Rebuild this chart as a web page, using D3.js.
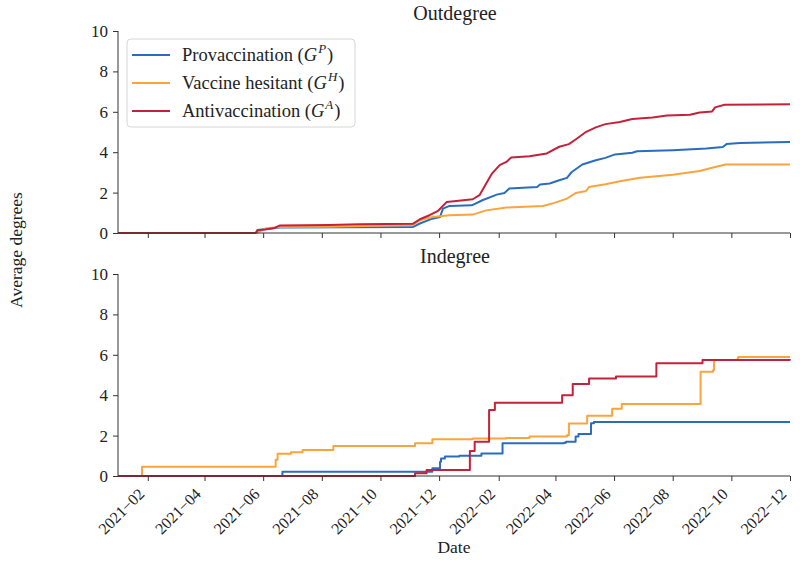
<!DOCTYPE html>
<html>
<head>
<meta charset="utf-8">
<script src="https://cdn.jsdelivr.net/npm/d3@7"></script>
<style>
  html, body { margin: 0; padding: 0; background: #fff; }
  svg { display: block; font-family: "Liberation Serif", "DejaVu Serif", serif; }
</style>
</head>
<body>
<svg id="chart" width="800" height="567"></svg>
<script>
// ---------- data ----------
const seriesNames = ["Provaccination", "Vaccine hesitant", "Antivaccination"];
const seriesSup = ["P", "H", "A"];
const seriesColors = ["#2a6dbf", "#f9a43d", "#c4213a"];
const panelTitles = ["Outdegree", "Indegree"];
const yTicks = [0, 2, 4, 6, 8, 10];
const xTickDates = ["2021-02-01","2021-04-01","2021-06-01","2021-08-01","2021-10-01","2021-12-01",
                    "2022-02-01","2022-04-01","2022-06-01","2022-08-01","2022-10-01","2022-12-01"];
const xDomain = ["2021-01-01", "2022-12-01"];

// Outdegree
const outPro = [["2021-01-01",0],["2021-05-25",0],["2021-05-26",0.15],["2021-06-18",0.27],["2021-11-04",0.3],["2021-11-11",0.47],["2021-11-24",0.71],["2021-12-02",0.79],["2021-12-05",1.21],["2021-12-12",1.34],["2022-01-04",1.37],["2022-01-15",1.62],["2022-01-30",1.9],["2022-02-07",1.98],["2022-02-12",2.2],["2022-03-13",2.28],["2022-03-16",2.4],["2022-03-26",2.45],["2022-04-05",2.61],["2022-04-13",2.73],["2022-04-18",3.02],["2022-04-29",3.39],["2022-05-13",3.6],["2022-05-23",3.72],["2022-06-02",3.89],["2022-06-20",3.97],["2022-06-25",4.05],["2022-08-01",4.1],["2022-09-05",4.18],["2022-09-22",4.26],["2022-09-26",4.4],["2022-10-10",4.46],["2022-12-01",4.5]];
const outHes = [["2021-01-01",0],["2021-05-25",0],["2021-06-03",0.22],["2021-06-18",0.3],["2021-08-06",0.31],["2021-11-04",0.4],["2021-11-11",0.63],["2021-11-24",0.79],["2021-12-12",0.88],["2022-01-05",0.91],["2022-01-19",1.12],["2022-02-09",1.26],["2022-03-19",1.34],["2022-03-31",1.49],["2022-04-13",1.7],["2022-04-22",1.98],["2022-05-03",2.08],["2022-05-06",2.28],["2022-05-23",2.41],["2022-06-07",2.56],["2022-06-28",2.73],["2022-08-01",2.88],["2022-08-29",3.07],["2022-09-12",3.24],["2022-09-25",3.39],["2022-12-01",3.39]];
const outAnti = [["2021-01-01",0],["2021-05-24",0],["2021-05-26",0.13],["2021-06-03",0.17],["2021-06-13",0.25],["2021-06-18",0.37],["2021-08-09",0.39],["2021-09-09",0.43],["2021-11-04",0.46],["2021-11-11",0.68],["2021-11-21",0.88],["2021-11-30",1.1],["2021-12-09",1.54],["2022-01-05",1.67],["2022-01-12",1.87],["2022-01-19",2.45],["2022-01-25",2.94],["2022-02-02",3.36],["2022-02-09",3.52],["2022-02-14",3.74],["2022-03-05",3.8],["2022-03-23",3.94],["2022-04-05",4.27],["2022-04-15",4.4],["2022-04-22",4.63],["2022-05-03",5.01],["2022-05-13",5.23],["2022-05-23",5.39],["2022-06-07",5.5],["2022-06-20",5.64],["2022-07-11",5.72],["2022-07-26",5.82],["2022-08-19",5.85],["2022-08-29",5.97],["2022-09-11",6.02],["2022-09-14",6.22],["2022-09-24",6.35],["2022-12-01",6.37]];

// Indegree (step functions)
const inPro = [["2021-01-01",0],["2021-06-21",0.21],["2021-11-24",0.38],["2021-12-02",0.71],["2021-12-03",0.87],["2021-12-07",0.96],["2021-12-22",1.0],["2022-01-14",1.12],["2022-02-05",1.62],["2022-04-10",1.65],["2022-04-12",1.7],["2022-04-22",1.95],["2022-04-25",2.08],["2022-05-08",2.61],["2022-05-11",2.67],["2022-12-01",2.67]];
const inHes = [["2021-01-01",0],["2021-01-26",0.46],["2021-06-14",0.8],["2021-06-16",1.1],["2021-06-30",1.17],["2021-07-12",1.29],["2021-08-13",1.49],["2021-11-06",1.62],["2021-11-24",1.82],["2022-01-05",1.86],["2022-02-09",1.88],["2022-03-05",1.96],["2022-04-13",2.02],["2022-04-15",2.6],["2022-05-04",2.98],["2022-05-30",3.33],["2022-06-09",3.56],["2022-08-30",5.16],["2022-09-12",5.25],["2022-09-13",5.74],["2022-10-07",5.78],["2022-10-08",5.89],["2022-12-01",5.89]];
const inAnti = [["2021-01-01",0],["2021-11-06",0.13],["2021-11-18",0.3],["2022-01-02",1.24],["2022-01-07",1.7],["2022-01-22",3.27],["2022-01-28",3.63],["2022-04-08",4.0],["2022-04-19",4.55],["2022-05-06",4.83],["2022-06-03",4.92],["2022-07-15",5.58],["2022-09-01",5.74],["2022-12-01",5.72]];

// ---------- drawing ----------
const parse = d3.utcParse("%Y-%m-%d");
const svg = d3.select("#chart");
const left = 118, right = 790;
const panels = [
  { top: 31, bottom: 233, series: [outPro, outHes, outAnti], curve: d3.curveLinear, labels: false },
  { top: 274, bottom: 476, series: [inPro, inHes, inAnti], curve: d3.curveStepAfter, labels: true }
];

const x = d3.scaleUtc().domain(xDomain.map(parse)).range([left, right]);
const fmt = d3.utcFormat("%Y\u2212%m");

panels.forEach((p, pi) => {
  const y = d3.scaleLinear().domain([0, 10]).range([p.bottom, p.top]);
  const g = svg.append("g");

  // title
  g.append("text").attr("x", (left + right) / 2 + 1).attr("y", p.top - 11)
    .attr("text-anchor", "middle").attr("font-size", 20).attr("fill", "#222")
    .text(panelTitles[pi]);

  // lines
  const line = d3.line().x(d => x(parse(d[0]))).y(d => y(d[1])).curve(p.curve);
  p.series.forEach((s, si) => {
    g.append("path").datum(s).attr("d", line)
      .attr("fill", "none").attr("stroke", seriesColors[si])
      .attr("stroke-width", 2).attr("stroke-linejoin", "round");
  });

  // y axis
  const ya = g.append("g").attr("transform", `translate(${left},0)`)
    .call(d3.axisLeft(y).tickValues(yTicks).tickSize(5).tickPadding(5).tickFormat(d3.format("d")));
  ya.selectAll("text").attr("font-size", 17).attr("fill", "#222").attr("font-family", "Liberation Serif");
  ya.selectAll("line,path").attr("stroke", "#333");

  // x axis
  const xa = g.append("g").attr("transform", `translate(0,${p.bottom})`)
    .call(d3.axisBottom(x).tickValues(xTickDates.map(parse)).tickSize(5).tickFormat(p.labels ? fmt : ""));
  xa.selectAll("line,path").attr("stroke", "#333");
  xa.select(".domain").attr("d", `M${left},0H${right}`);
  if (p.labels) {
    xa.selectAll("text")
      .attr("font-size", 16).attr("fill", "#222").attr("font-family", "Liberation Serif")
      .attr("text-anchor", "end").attr("dy", 0).attr("x", 0).attr("y", 0)
      .attr("transform", "translate(-3,19) rotate(-45)");
  }
  ya.select(".domain").attr("d", `M0,${p.bottom}V${p.top}`);
});

// legend
const lg = svg.append("g");
lg.append("rect").attr("x", 127).attr("y", 39).attr("width", 228).attr("height", 88)
  .attr("rx", 4).attr("fill", "#fff").attr("fill-opacity", 0.85)
  .attr("stroke", "#d6d6d6").attr("stroke-width", 1);
seriesNames.forEach((name, i) => {
  const yy = 55 + i * 28;
  lg.append("line").attr("x1", 132).attr("x2", 170).attr("y1", yy).attr("y2", yy)
    .attr("stroke", seriesColors[i]).attr("stroke-width", 2);
  const t = lg.append("text").attr("x", 182).attr("y", yy + 6).attr("font-size", 18.5).attr("fill", "#222");
  t.append("tspan").text(name + " (");
  t.append("tspan").attr("font-style", "italic").text("G");
  t.append("tspan").attr("font-style", "italic").attr("font-size", 13).attr("dy", -8).attr("dx", 1).text(seriesSup[i]);
  t.append("tspan").attr("dy", 8).attr("dx", 1).text(")");
});

// axis labels
svg.append("text").attr("transform", "translate(22,250) rotate(-90)")
  .attr("text-anchor", "middle").attr("font-size", 17.5).attr("fill", "#222").text("Average degrees");
svg.append("text").attr("x", (left + right) / 2).attr("y", 553)
  .attr("text-anchor", "middle").attr("font-size", 17.5).attr("fill", "#222").text("Date");
</script>
</body>
</html>
